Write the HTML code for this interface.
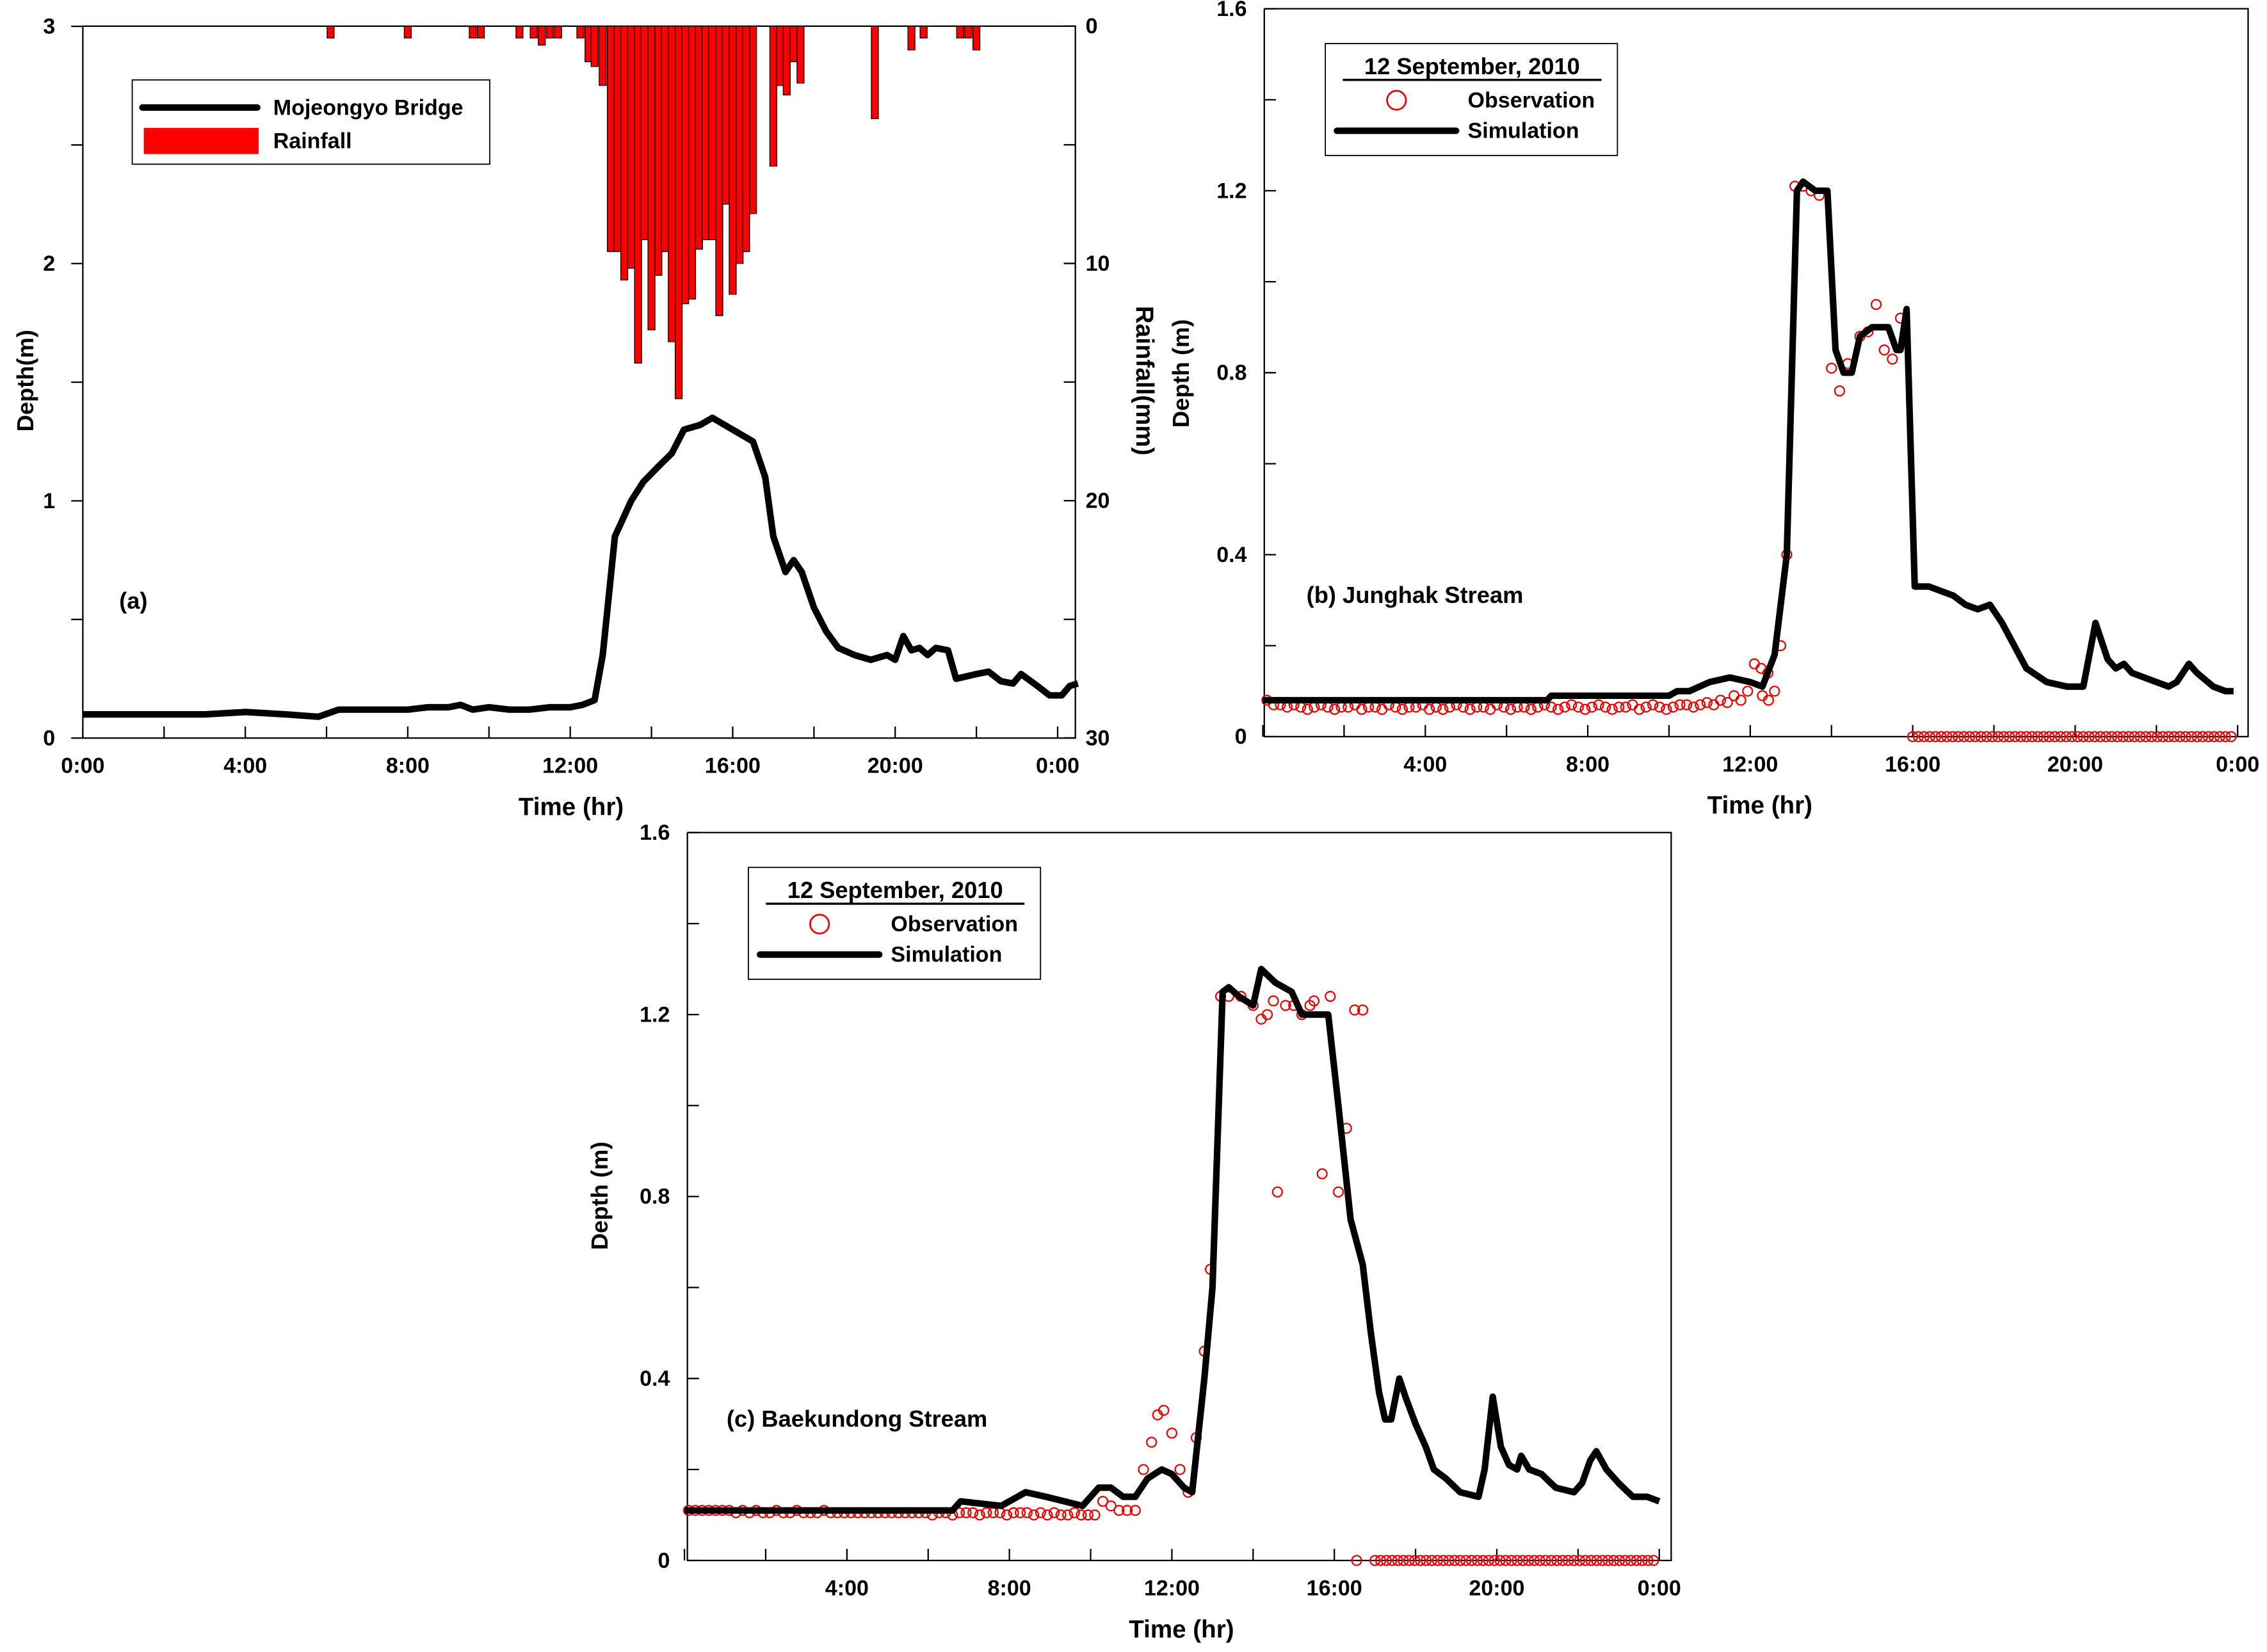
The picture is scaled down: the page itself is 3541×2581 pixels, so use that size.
<!DOCTYPE html>
<html><head><meta charset="utf-8"><style>
html,body{margin:0;padding:0;background:#fff}
svg{display:block}
text{font-family:"Liberation Sans",Arial,sans-serif;font-weight:bold;fill:#000}
</style></head><body>
<svg id="fig" xmlns="http://www.w3.org/2000/svg" width="3541" height="2581" viewBox="0 0 1560 1137" preserveAspectRatio="none">
<g id="pa"></g>
<g id="pb"></g>
<g id="pc"></g>
</svg>
<script>
// ---- Panel (a) data ----
const aDepthT = [0,1,2,3,4,5,5.8,6.3,7,8,8.5,9,9.3,9.6,10,10.5,11,11.5,12,12.3,12.6,12.8,13.1,13.5,13.8,14.2,14.5,14.8,15.2,15.5,15.8,16,16.5,16.8,17,17.3,17.5,17.7,18,18.3,18.6,19,19.4,19.8,20,20.2,20.4,20.6,20.8,21,21.3,21.5,22,22.3,22.6,22.9,23.1,23.5,23.8,24.1,24.3,24.5];
const aDepthV = [0.1,0.1,0.1,0.1,0.11,0.1,0.09,0.12,0.12,0.12,0.13,0.13,0.14,0.12,0.13,0.12,0.12,0.13,0.13,0.14,0.16,0.35,0.85,1.0,1.08,1.15,1.2,1.3,1.32,1.35,1.32,1.3,1.25,1.1,0.85,0.7,0.75,0.7,0.55,0.45,0.38,0.35,0.33,0.35,0.33,0.43,0.37,0.38,0.35,0.38,0.37,0.25,0.27,0.28,0.24,0.23,0.27,0.22,0.18,0.18,0.22,0.23];
const rainT = [6.1,8.0,9.6,9.8,10.75,11.1,11.3,11.5,11.7,12.25,12.45,12.6,12.8,13.0,13.17,13.33,13.5,13.67,13.83,14.0,14.17,14.33,14.5,14.67,14.83,15.0,15.17,15.33,15.5,15.67,15.83,16.0,16.17,16.33,16.5,17.0,17.17,17.33,17.5,17.67,19.5,20.4,20.7,21.6,21.8,22.0];
const rainV = [0.5,0.5,0.5,0.5,0.5,0.5,0.8,0.5,0.5,0.5,1.5,1.7,2.5,9.5,9.5,10.7,10.2,14.2,9.0,12.8,10.5,9.5,13.3,15.7,11.7,11.5,9.4,9.0,9.0,12.2,7.5,11.3,10.0,9.5,7.9,5.9,2.5,2.9,1.5,2.4,3.9,1.0,0.5,0.5,0.5,1.0];
const aYTicks = ["0","1","2","3"];
const rainTicks = ["0","10","20","30"];
const xTickLabels = ["0:00","4:00","8:00","12:00","16:00","20:00","0:00"];

// ---- Panel (b) data ----
const bSimT = [0,7,7.1,10,10.2,10.5,11,11.5,12,12.3,12.6,12.9,13.15,13.3,13.6,13.9,14.1,14.3,14.5,14.7,15,15.4,15.6,15.7,15.85,16.05,16.4,17,17.3,17.6,17.9,18.2,18.5,18.8,19.3,19.8,20.2,20.5,20.8,21,21.2,21.4,21.7,22,22.3,22.5,22.8,23,23.4,23.7,23.9];
const bSimV = [0.08,0.08,0.09,0.09,0.1,0.1,0.12,0.13,0.12,0.11,0.18,0.4,1.2,1.22,1.2,1.2,0.85,0.8,0.8,0.88,0.9,0.9,0.85,0.85,0.94,0.33,0.33,0.31,0.29,0.28,0.29,0.25,0.2,0.15,0.12,0.11,0.11,0.25,0.17,0.15,0.16,0.14,0.13,0.12,0.11,0.12,0.16,0.14,0.11,0.1,0.1];
const bObsFlat = "0.08 0.07 0.07 0.065 0.07 0.065 0.06 0.065 0.07 0.065 0.06 0.065 0.065 0.07 0.06 0.065 0.065 0.06 0.07 0.065 0.06 0.065 0.065 0.07 0.06 0.065 0.06 0.065 0.07 0.065 0.06 0.065 0.065 0.06 0.07 0.065 0.06 0.065 0.065 0.06 0.065 0.07 0.065 0.06 0.065 0.07 0.065 0.06 0.065 0.07 0.065 0.06 0.065 0.065 0.07 0.06 0.065 0.07 0.065 0.06 0.065 0.07 0.07 0.065 0.07 0.075 0.07 0.08 0.075 0.09 0.08 0.1 0.16 0.15 0.14";
const bObsPeakT = [12.3,12.45,12.6,12.75,12.9,13.1,13.3,13.5,13.7,14.0,14.2,14.4,14.7,14.9,15.1,15.3,15.5,15.7];
const bObsPeakV = [0.09,0.08,0.1,0.2,0.4,1.21,1.21,1.2,1.19,0.81,0.76,0.82,0.88,0.89,0.95,0.85,0.83,0.92];
const bObsZeroFrom = 16.0;
const bObsZeroTo = 23.9;
const depthTicks = ["0","0.4","0.8","1.2","1.6"];

// ---- Panel (c) data ----
const cSimT = [0,6.6,6.8,7.8,8.4,8.9,9.8,10.2,10.5,10.8,11.1,11.4,11.75,12.0,12.3,12.5,12.8,13.0,13.25,13.4,13.65,14.0,14.2,14.55,14.95,15.2,15.85,16.1,16.4,16.7,16.9,17.1,17.25,17.4,17.6,17.75,18.0,18.25,18.45,18.75,19.1,19.55,19.7,19.9,20.1,20.3,20.5,20.6,20.8,21.1,21.45,21.9,22.1,22.3,22.45,22.7,23.0,23.35,23.7,24.0];
const cSimV = [0.11,0.11,0.13,0.12,0.15,0.14,0.12,0.16,0.16,0.14,0.14,0.18,0.2,0.19,0.16,0.15,0.4,0.6,1.25,1.26,1.24,1.22,1.3,1.27,1.25,1.2,1.2,1.0,0.75,0.65,0.5,0.37,0.31,0.31,0.4,0.36,0.3,0.25,0.2,0.18,0.15,0.14,0.2,0.36,0.25,0.21,0.2,0.23,0.2,0.19,0.16,0.15,0.17,0.22,0.24,0.2,0.17,0.14,0.14,0.13];
const cObsFlat = "0.11 0.11 0.11 0.11 0.11 0.11 0.11 0.105 0.11 0.105 0.11 0.105 0.105 0.11 0.105 0.105 0.11 0.105 0.105 0.105 0.11 0.105 0.105 0.105 0.105 0.105 0.105 0.105 0.105 0.105 0.105 0.105 0.105 0.105 0.105 0.105 0.1 0.105 0.105 0.1 0.105 0.105 0.105 0.1 0.105 0.105 0.105 0.1 0.105 0.105 0.105 0.1 0.105 0.1 0.105 0.1 0.1 0.105 0.1 0.1 0.1";
const cObsPeakT = [10.3,10.5,10.7,10.9,11.1,11.3,11.5,11.65,11.8,12.0,12.2,12.4,12.6,12.8,12.95,13.2,13.4,13.7,14.0,14.2,14.35,14.5,14.6,14.8,15.0,15.2,15.4,15.5,15.7,15.9,16.1,16.3,16.55,16.5,16.7];
const cObsPeakV = [0.13,0.12,0.11,0.11,0.11,0.2,0.26,0.32,0.33,0.28,0.2,0.15,0.27,0.46,0.64,1.24,1.24,1.24,1.22,1.19,1.2,1.23,0.81,1.22,1.22,1.2,1.22,1.23,0.85,1.24,0.81,0.95,0,1.21,1.21];
const cObsZeroFrom = 17.0;
const cObsZeroTo = 23.9;

const NS = "http://www.w3.org/2000/svg";
function mk(parent, tag, attrs, txt){
  const e = document.createElementNS(NS, tag);
  for (const k in attrs) e.setAttribute(k, attrs[k]);
  if (txt !== undefined) e.textContent = txt;
  parent.appendChild(e);
  return e;
}
function nums(s){ return s.trim().split(/\s+/).map(Number); }

function frame(g, x0, y0, x1, y1, topLine){
  const f = mk(g, 'path', {d:`M${x0},${y0} V${y1} H${x1} V${y0}` + (topLine ? ` H${x0}` : ''), fill:'none', stroke:'#000', 'stroke-width':1});
  
  
}
function xAxis(g, X, yb, labels, skipFirst){
  for (let h = 0; h <= 24; h += 2){
    const t = mk(g, 'line', {x1:X(h), x2:X(h), y1:yb, y2:yb-8, stroke:'#000', 'stroke-width':1});
    
    
  }
  labels.forEach((l, i) => {
    if (skipFirst && i === 0) return;
    const t = mk(g, 'text', {x:X(i*4), y:yb+24, 'text-anchor':'middle', 'font-size':15}, l);
    
    
  });
}
function polyline(g, X, Y, T, V, name){
  const p = mk(g, 'polyline', {points:T.map((t,i)=>X(t)+','+Y(V[i])).join(' '), fill:'none', stroke:'#000', 'stroke-width':4.5, 'stroke-linejoin':'round'});
  
  
}
function circles(g, X, Y, T, V){
  T.forEach((t,i)=>{
    const c = mk(g, 'circle', {cx:X(t), cy:Y(V[i]), r:3.3, fill:'none', stroke:'#e00', 'stroke-width':1});
    
    
  });
}
function legend(g, x, y, title){
  const lg = mk(g, 'g', {});
  
  
  mk(lg, 'rect', {x:x, y:y, width:201, height:77, fill:'#fff', stroke:'#000', 'stroke-width':0.8});
  const tt = mk(lg, 'text', {x:x+101, y:y+21, 'text-anchor':'middle', 'font-size':16}, title);
  
  
  mk(lg, 'line', {x1:x+12, x2:x+190, y1:y+25, y2:y+25, stroke:'#000', 'stroke-width':1.5});
  mk(lg, 'circle', {cx:x+49, cy:y+39, r:6.5, fill:'none', stroke:'#e00', 'stroke-width':1.2});
  const t1 = mk(lg, 'text', {x:x+98, y:y+44, 'font-size':15}, 'Observation');
  
  
  mk(lg, 'line', {x1:x+8, x2:x+90, y1:y+60, y2:y+60, stroke:'#000', 'stroke-width':4.5, 'stroke-linecap':'round'});
  const t2 = mk(lg, 'text', {x:x+98, y:y+65, 'font-size':15}, 'Simulation');
  
  
}
function depthAxis(g, x0, Y){
  for (let k = 0; k <= 8; k++){
    const v = k*0.2;
    const t = mk(g, 'line', {x1:x0, x2:x0+8, y1:Y(v), y2:Y(v), stroke:'#000', 'stroke-width':1});
    
    
  }
  depthTicks.forEach((l,i)=>{
    const t = mk(g, 'text', {x:x0-12, y:Y(i*0.4)+5, 'text-anchor':'end', 'font-size':15}, l);
    
    
  });
}

// ===== Panel (a) =====
(function(){
  const g = document.getElementById('pa');
  const X = h => 57 + h*27.95;
  const Y = v => 508 - v*163.3;
  const R = r => 18 + r*16.33;
  frame(g, 57, 18, 740, 508, true);
  rainT.forEach((t,i)=>{
    const b = mk(g, 'rect', {x:X(t)-2.4, y:18, width:4.8, height:R(rainV[i])-18, fill:'#f00', stroke:'#000', 'stroke-width':0.6});
    
    
  });
  for (let k = 0; k <= 6; k++){
    const t = mk(g, 'line', {x1:57, x2:49, y1:Y(k*0.5), y2:Y(k*0.5), stroke:'#000', 'stroke-width':1});
    
    
    const r = mk(g, 'line', {x1:740, x2:732, y1:R(k*5), y2:R(k*5), stroke:'#000', 'stroke-width':1});
    
    
  }
  aYTicks.forEach((l,i)=>{
    const t = mk(g, 'text', {x:38, y:Y(i)+5, 'text-anchor':'end', 'font-size':15}, l);
    
    
  });
  rainTicks.forEach((l,i)=>{
    const t = mk(g, 'text', {x:747, y:R(i*10)+5, 'font-size':15}, l);
    
    
  });
  xAxis(g, X, 508, xTickLabels, false);
  polyline(g, X, Y, aDepthT, aDepthV, 'mojeongyo-depth-line');
  const lg = mk(g, 'g', {});
  
  
  mk(lg, 'rect', {x:91, y:55, width:246, height:58, fill:'#fff', stroke:'#000', 'stroke-width':0.8});
  mk(lg, 'line', {x1:98, x2:177, y1:74, y2:74, stroke:'#000', 'stroke-width':4.5, 'stroke-linecap':'round'});
  mk(lg, 'rect', {x:99, y:88, width:79, height:18, fill:'#f00'});
  const l1 = mk(lg, 'text', {x:188, y:79, 'font-size':15}, 'Mojeongyo Bridge');
  
  
  const l2 = mk(lg, 'text', {x:188, y:102, 'font-size':15}, 'Rainfall');
  
  
  const pl = mk(g, 'text', {x:82, y:419, 'font-size':16}, '(a)');
  
  
  const yt = mk(g, 'text', {x:0, y:0, 'font-size':16, 'text-anchor':'middle', transform:'translate(23,262) rotate(-90)'}, 'Depth(m)');
  
  
  const rt = mk(g, 'text', {x:0, y:0, 'font-size':17, 'text-anchor':'middle', transform:'translate(782,262) rotate(90)'}, 'Rainfall(mm)');
  
  
  const xt = mk(g, 'text', {x:393, y:561, 'font-size':17, 'text-anchor':'middle'}, 'Time (hr)');
  
  
})();

// ===== Panel (b) =====
(function(){
  const g = document.getElementById('pb');
  const X = h => 869 + h*27.95;
  const Y = v => 507 - v*313.1;
  frame(g, 870, 6, 1547, 507, true);
  depthAxis(g, 870, Y);
  xAxis(g, X, 507, xTickLabels, true);
  const flat = nums(bObsFlat);
  circles(g, X, Y, flat.map((v,i)=>0.1 + i*0.1667), flat);
  circles(g, X, Y, bObsPeakT, bObsPeakV);
  const zt = []; for (let t = bObsZeroFrom; t <= bObsZeroTo; t += 0.14) zt.push(t);
  circles(g, X, Y, zt, zt.map(()=>0));
  polyline(g, X, Y, bSimT, bSimV, 'junghak-simulation-line');
  legend(g, 912, 30, '12 September, 2010');
  const pl = mk(g, 'text', {x:899, y:415, 'font-size':16}, '(b) Junghak Stream');
  
  
  const yt = mk(g, 'text', {x:0, y:0, 'font-size':16, 'text-anchor':'middle', transform:'translate(818,257) rotate(-90)'}, 'Depth (m)');
  
  
  const xt = mk(g, 'text', {x:1211, y:560, 'font-size':17, 'text-anchor':'middle'}, 'Time (hr)');
  
  
})();

// ===== Panel (c) =====
(function(){
  const g = document.getElementById('pc');
  const X = h => 471 + h*27.95;
  const Y = v => 1074 - v*313.1;
  frame(g, 473, 573, 1150, 1074, true);
  depthAxis(g, 473, Y);
  xAxis(g, X, 1074, xTickLabels, true);
  const flat = nums(cObsFlat);
  circles(g, X, Y, flat.map((v,i)=>0.1 + i*0.1667), flat);
  circles(g, X, Y, cObsPeakT, cObsPeakV);
  const zt = []; for (let t = cObsZeroFrom; t <= cObsZeroTo; t += 0.14) zt.push(t);
  circles(g, X, Y, zt, zt.map(()=>0));
  polyline(g, X, Y, cSimT, cSimV, 'baekundong-simulation-line');
  legend(g, 515, 597, '12 September, 2010');
  const pl = mk(g, 'text', {x:500, y:982, 'font-size':16}, '(c) Baekundong Stream');
  
  
  const yt = mk(g, 'text', {x:0, y:0, 'font-size':16, 'text-anchor':'middle', transform:'translate(418,823) rotate(-90)'}, 'Depth (m)');
  
  
  const xt = mk(g, 'text', {x:813, y:1127, 'font-size':17, 'text-anchor':'middle'}, 'Time (hr)');
  
  
})();
</script>
</body></html>
